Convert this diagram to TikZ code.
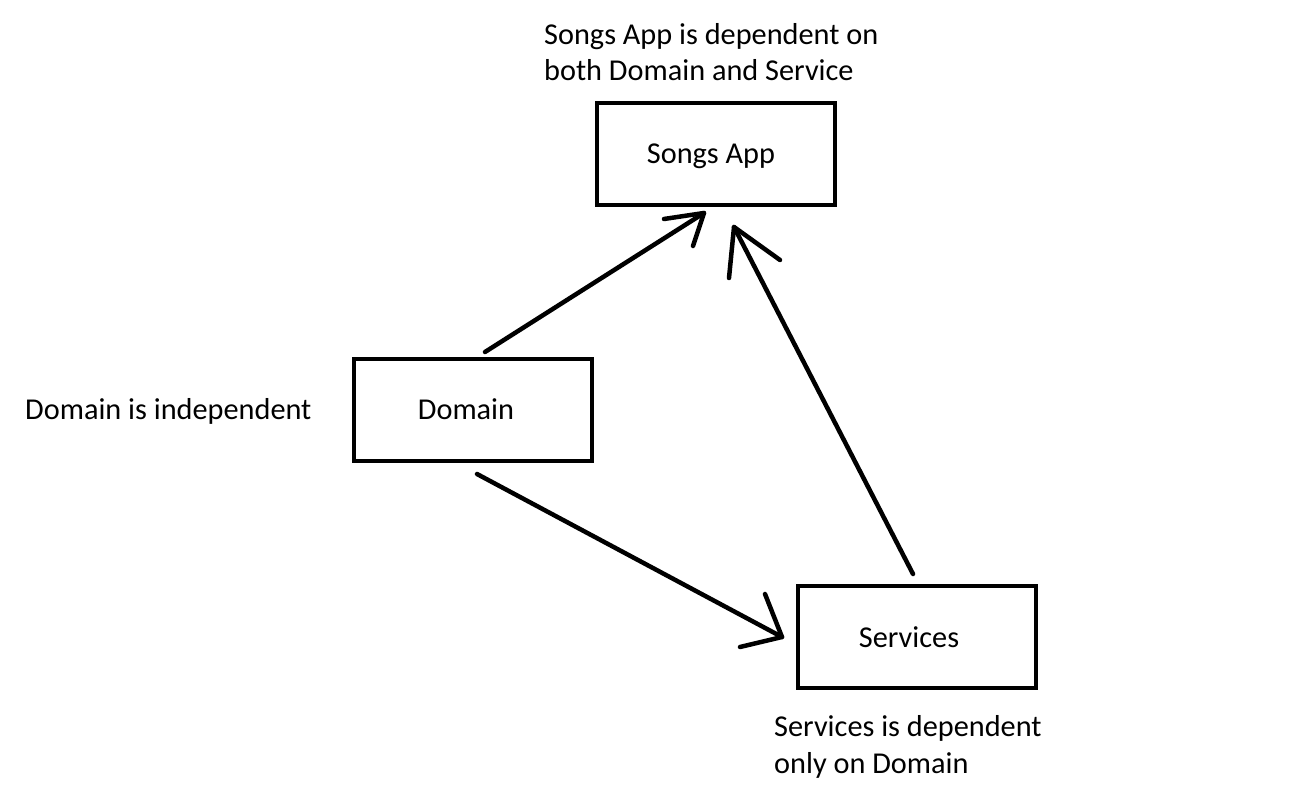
\documentclass[tikz,border=0pt]{standalone}
\usepackage{fontspec}
\setmainfont{Carlito}
\begin{document}
\begin{tikzpicture}[x=1pt,y=-1pt,
  box/.style={draw,line width=3.5pt,minimum width=238pt,minimum height=102pt,inner sep=0pt},
  lbl/.style={anchor=base west,inner sep=0pt,align=left},
  arr/.style={line width=4.5pt,line cap=round,line join=round},
  every node/.style={font=\fontsize{30.3}{36.5}\selectfont}]
\useasboundingbox (0,0) rectangle (1299,802);
\fill[white] (0,0) rectangle (1299,802);
% boxes
\node[box] (app) at (716,154) {};
\node[box] (dom) at (473,410) {};
\node[box] (srv) at (917,637) {};
\node[anchor=base,inner sep=0pt] (appt) at (711,164) {Songs App};
\node[anchor=base,inner sep=0pt] (domt) at (466,419) {Domain};
\node[anchor=base,inner sep=0pt] (srvt) at (909,647) {Services};
% labels (base anchor = last line's baseline)
\node[lbl] (l1) at (544,81) {Songs App is dependent on\\both Domain and Service};
\node[lbl] (l2) at (25,419) {Domain is independent};
\node[lbl] (l3) at (774,773) {Services is dependent\\only on Domain};
% arrow coordinates
\coordinate (a1s) at (485,352);
\coordinate (a1t) at (704,213);
\coordinate (a1l) at (664,219);
\coordinate (a1r) at (693,246);
\coordinate (a2s) at (913,574);
\coordinate (a2t) at (734,227);
\coordinate (a2l) at (729,278);
\coordinate (a2r) at (780,260);
\coordinate (a3s) at (477,474);
\coordinate (a3t) at (782,637);
\coordinate (a3l) at (765,594);
\coordinate (a3r) at (740,647);
\draw[arr] (a1s) -- (a1t);
\draw[arr] (a1l) -- (a1t) -- (a1r);
\draw[arr] (a2s) -- (a2t);
\draw[arr] (a2l) -- (a2t) -- (a2r);
\draw[arr] (a3s) -- (a3t);
\draw[arr] (a3l) -- (a3t) -- (a3r);
\end{tikzpicture}
\end{document}
